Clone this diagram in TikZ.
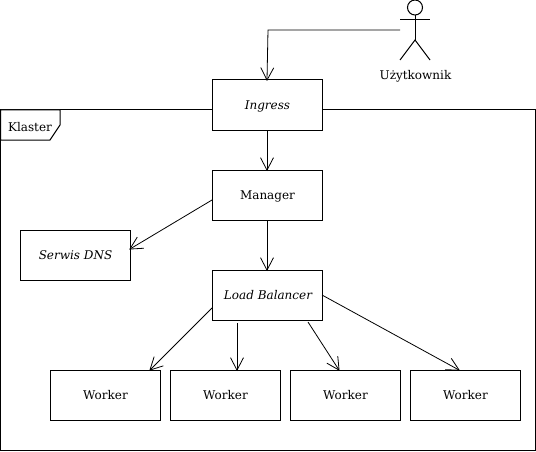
\documentclass[tikz,border=0pt]{standalone}
\usepackage{fontspec}
\setmainfont{DejaVu Serif}
\usetikzlibrary{arrows.meta}
\tikzset{
  box/.style={draw=black,fill=white,line width=1pt,minimum width=110pt,minimum height=50pt,inner sep=0pt,outer sep=0pt,text height=12.5pt,text depth=3.5pt,font=\fontsize{12}{14}\selectfont,anchor=north west,execute at begin node=\hspace{1pt}},
  conn/.style={draw=black,line width=0.8pt,shorten >=-1pt,-{Straight Barb[length=12.5pt,width=13pt,line width=0.8pt]}},
  lineonly/.style={draw=black,line width=1pt},
  lbl/.style={inner sep=0pt,font=\fontsize{12}{14}\selectfont}
}
\begin{document}
\begin{tikzpicture}[x=1pt,y=-1pt]
\useasboundingbox (0,0) rectangle (536,452);
% frame
\draw[lineonly] (0.5,110) -- (535,110) -- (535,450) -- (0.5,450) -- cycle;
\draw[lineonly,fill=white] (0.5,110) -- (60,110) -- (60,125) -- (50,140) -- (0.5,140) -- cycle;
\node[lbl] (klaster) at (30,127) {Klaster};
% nodes
\node[box] (ingress) at (212,80) {\itshape Ingress};
\node[box] (manager) at (212,170) {Manager};
\node[box] (dns) at (20,230) {\itshape Serwis DNS};
\node[box] (lb) at (212,270) {\hspace{1pt}\itshape Load Balancer};
\node[box] (w1) at (50,370) {Worker};
\node[box] (w2) at (170,370) {Worker};
\node[box] (w3) at (290,370) {Worker};
\node[box] (w4) at (410,370) {Worker};
% actor
\node[circle,draw=black,line width=1pt,minimum size=15pt,inner sep=0pt,outer sep=0pt] (head) at (415,7.5) {};
\coordinate (hip) at (415,40);
\coordinate (armL) at (400,20);
\coordinate (armR) at (430,20);
\coordinate (legL) at (400,60);
\coordinate (legR) at (430,60);
\draw[lineonly] (head.south) -- (hip);
\draw[lineonly] (armL) -- (armR);
\draw[lineonly] (legL) -- (hip) -- (legR);
\node[lbl] (user) at (415.5,76) {Użytkownik};
% connectors
\coordinate (userhand) at (400,30);
\coordinate (bend) at (268,30);
\draw[conn] (userhand) -- (bend) -- (ingress.north);
\draw[conn] (ingress.south) -- (manager.north);
\draw[conn] (manager.south) -- (lb.north);
\draw[conn] ([yshift=-5pt]manager.west) -- ([yshift=6pt]dns.east);
\draw[conn] ([yshift=12pt]lb.south west) -- ([xshift=100pt]w1.north west);
\draw[conn] ([xshift=25pt,yshift=-3pt]lb.south west) -- ([xshift=67pt]w2.north west);
\draw[conn] ([xshift=96pt,yshift=-2pt]lb.south west) -- ([xshift=49pt]w3.north west);
\draw[conn] (lb.east) -- ([xshift=49pt]w4.north west);
\end{tikzpicture}
\end{document}
